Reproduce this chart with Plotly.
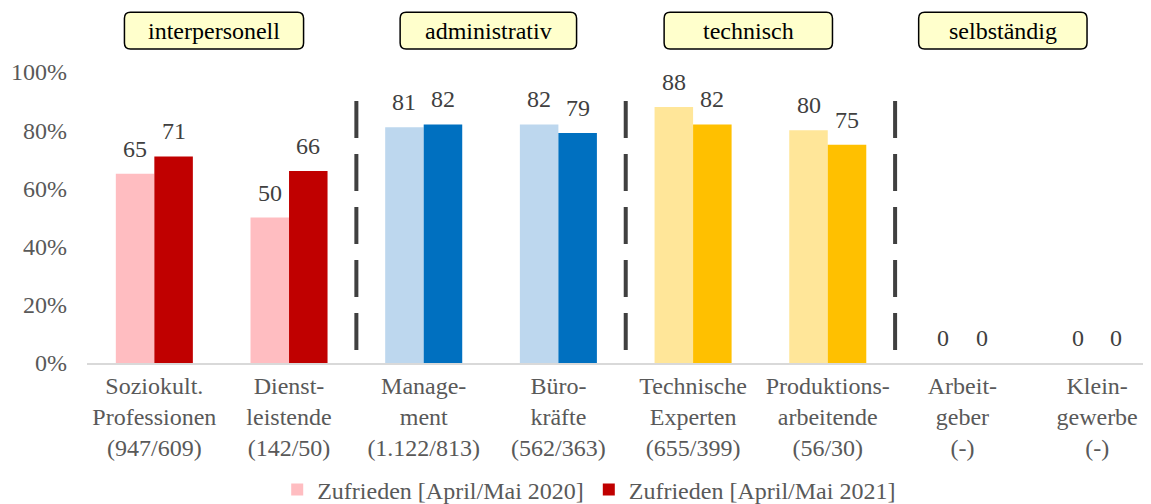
import plotly.graph_objects as go

categories = [
    "Soziokult.<br>Professionen<br>(947/609)",
    "Dienst-<br>leistende<br>(142/50)",
    "Manage-<br>ment<br>(1.122/813)",
    "Büro-<br>kräfte<br>(562/363)",
    "Technische<br>Experten<br>(655/399)",
    "Produktions-<br>arbeitende<br>(56/30)",
    "Arbeit-<br>geber<br>(-)",
    "Klein-<br>gewerbe<br>(-)",
]
values_2020 = [65, 50, 81, 82, 88, 80, 0, 0]
values_2021 = [71, 66, 82, 79, 82, 75, 0, 0]
series_names = ["Zufrieden [April/Mai 2020]", "Zufrieden [April/Mai 2021]"]
colors_2020 = ["#FFBDC1", "#FFBDC1", "#BDD7EE", "#BDD7EE", "#FFE699", "#FFE699", "#FFE699", "#FFE699"]
colors_2021 = ["#C00000", "#C00000", "#0070C0", "#0070C0", "#FFC000", "#FFC000", "#FFC000", "#FFC000"]
y_ticks = [0, 20, 40, 60, 80, 100]
y_tick_labels = ["0%", "20%", "40%", "60%", "80%", "100%"]

groups = [("interpersonell", 0.443, 1.33), ("administrativ", 2.48, 1.31),
          ("technisch", 4.41, 1.25), ("selbständig", 6.30, 1.25)]
separators = [1.5, 3.5, 5.5]

FONT = "Liberation Serif, Times New Roman, serif"
FS = 24
xs = list(range(len(categories)))

fig = go.Figure()
fig.add_trace(go.Bar(x=xs, y=values_2020, name=series_names[0],
                     marker=dict(color=colors_2020, line=dict(width=0))))
fig.add_trace(go.Bar(x=xs, y=values_2021, name=series_names[1],
                     marker=dict(color=colors_2021, line=dict(width=0))))

bar_px = 38.5
for vals, sh in ((values_2020, -bar_px / 2), (values_2021, bar_px / 2)):
    for x, v in zip(xs, vals):
        fig.add_annotation(x=x, y=v, xref="x", yref="y", text=str(v), showarrow=False,
                           xshift=sh, yshift=25, yanchor="middle",
                           font=dict(family=FONT, size=FS, color="#404040"))

for s in separators:
    fig.add_shape(type="line", xref="x", yref="y", x0=s, x1=s, y0=4.5, y1=90.5,
                  line=dict(color="#404040", width=4, dash="37px,16px"))

px_per_unit = 1064 / 7.9
rx = 6 / px_per_unit
ry = 6 / 291
y0, y1 = 1.079, 1.205
for name, cx, w in groups:
    x0, x1 = cx - w / 2, cx + w / 2
    path = (f"M {x0+rx},{y0} L {x1-rx},{y0} Q {x1},{y0} {x1},{y0+ry} "
            f"L {x1},{y1-ry} Q {x1},{y1} {x1-rx},{y1} L {x0+rx},{y1} "
            f"Q {x0},{y1} {x0},{y1-ry} L {x0},{y0+ry} Q {x0},{y0} {x0+rx},{y0} Z")
    fig.add_shape(type="path", xref="x", yref="paper", path=path,
                  fillcolor="#FFFFCC", line=dict(color="#000000", width=1.5), layer="above")
    fig.add_annotation(x=cx, y=(y0 + y1) / 2, xref="x", yref="paper", text=name,
                       showarrow=False, yanchor="middle",
                       font=dict(family=FONT, size=FS, color="#000000"))

# page body has an 8px default margin, so the figure is sized/offset to compensate
fig.update_layout(
    width=1143, height=496,
    margin=dict(l=79, r=0, t=64, b=141, autoexpand=False),
    paper_bgcolor="white", plot_bgcolor="white",
    barmode="group", bargap=0.428, bargroupgap=0,
    font=dict(family=FONT, size=FS, color="#595959"),
    showlegend=True,
    legend=dict(orientation="h", x=0.472, xanchor="center", y=-0.436, yanchor="middle",
                font=dict(family=FONT, size=FS, color="#595959"), traceorder="normal",
                itemwidth=30),
    xaxis=dict(range=[-0.5, 7.4], tickvals=xs, ticktext=categories, showline=True,
               linecolor="#D9D9D9", linewidth=1.5, ticks="", showgrid=False, zeroline=False,
               automargin=False,
               tickfont=dict(family=FONT, size=FS, color="#595959")),
    yaxis=dict(range=[0, 100], tickvals=y_ticks, ticktext=y_tick_labels, showgrid=False,
               zeroline=False, showline=False, ticks="", automargin=False,
               ticklabelstandoff=19,
               tickfont=dict(family=FONT, size=FS, color="#595959")),
)

fig.write_html("out.html")
